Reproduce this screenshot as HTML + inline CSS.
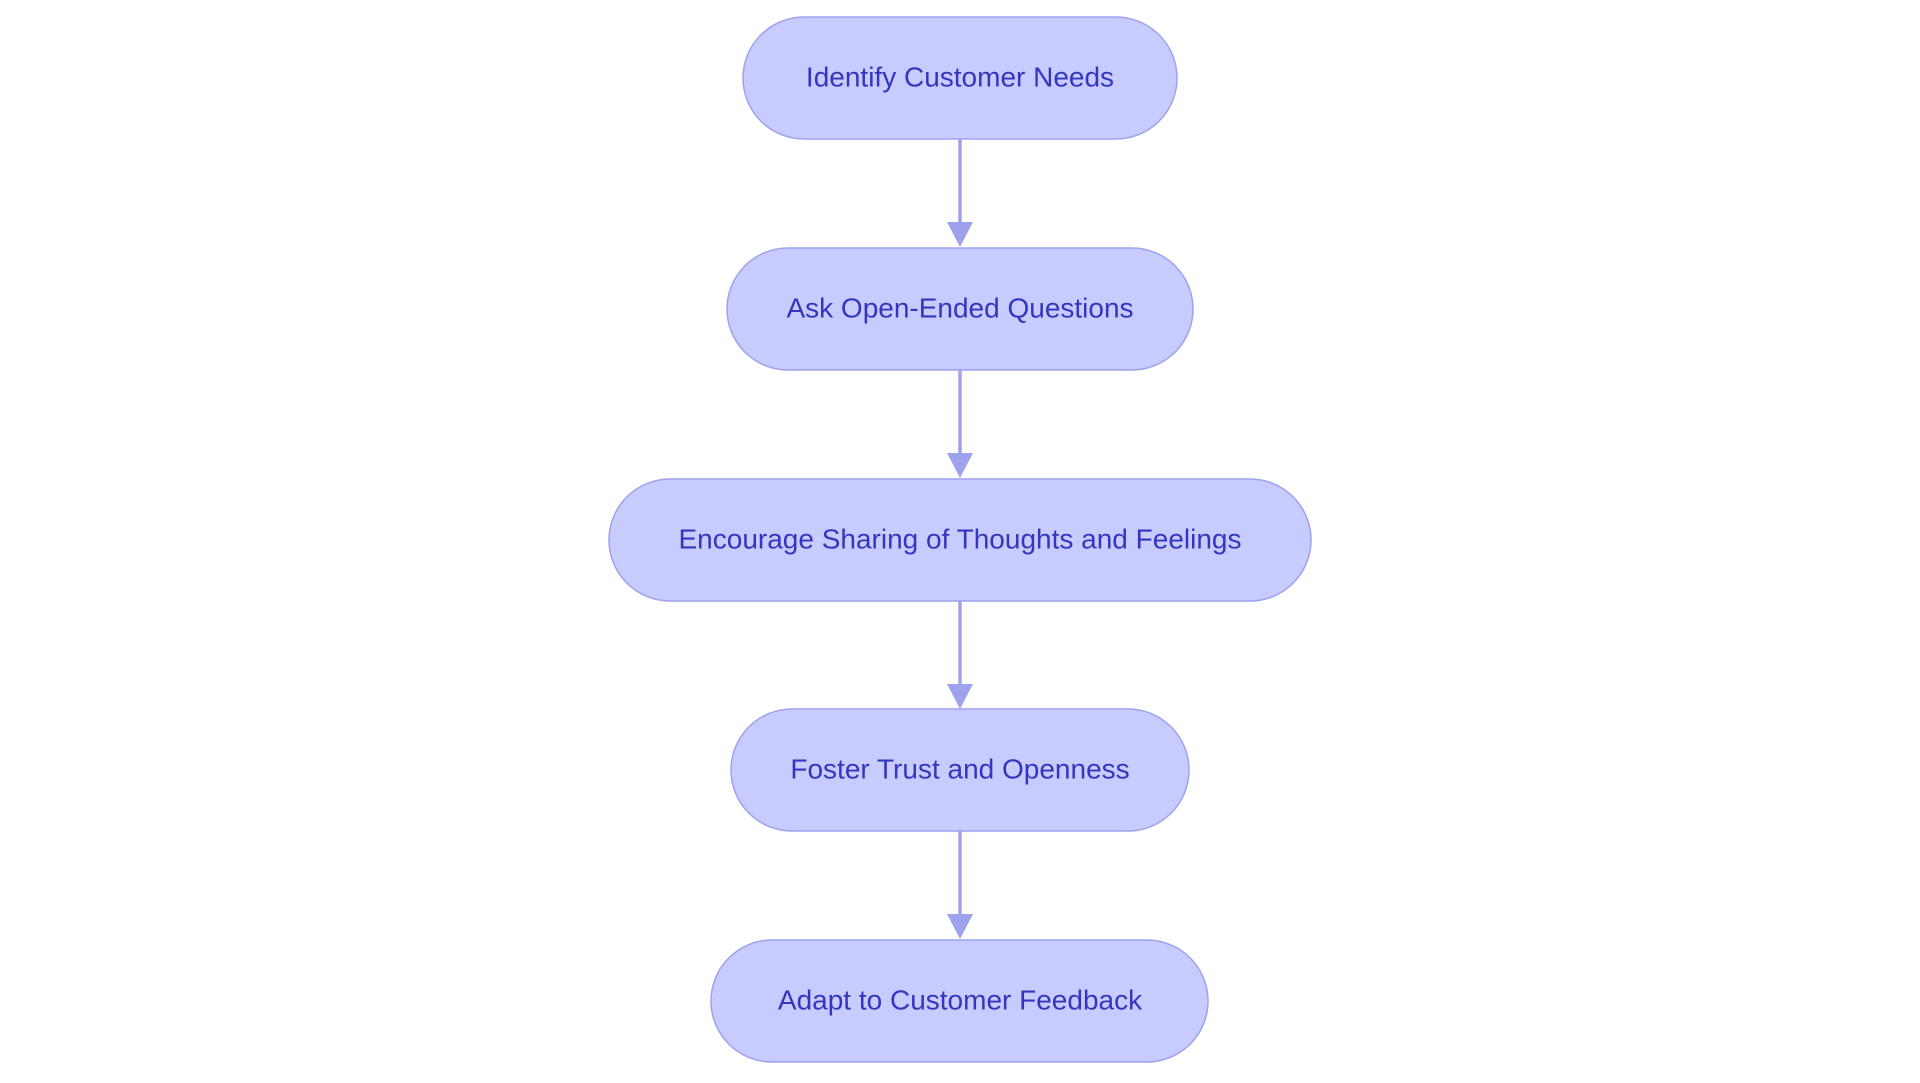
<!DOCTYPE html>
<html><head><style>body{margin:0;background:#fff}</style></head><body>
<svg width="1920" height="1083" xmlns="http://www.w3.org/2000/svg" style="display:block">
<g stroke="#9da2ee" stroke-width="3.5" fill="#9da2ee">
<line x1="960" y1="139" x2="960" y2="225"/><polygon stroke="none" points="947,222 973,222 960,247"/>
<line x1="960" y1="370" x2="960" y2="456"/><polygon stroke="none" points="947,453 973,453 960,478"/>
<line x1="960" y1="601" x2="960" y2="687"/><polygon stroke="none" points="947,684 973,684 960,709"/>
<line x1="960" y1="831" x2="960" y2="917"/><polygon stroke="none" points="947,914 973,914 960,939"/>
</g>
<g fill="#c8cbfe" stroke="#9da2ee" stroke-width="1.5">
<rect x="743" y="17" width="434" height="122" rx="61"/>
<rect x="727" y="248" width="466" height="122" rx="61"/>
<rect x="609" y="479" width="702" height="122" rx="61"/>
<rect x="731" y="709" width="458" height="122" rx="61"/>
<rect x="711" y="940" width="497" height="122" rx="61"/>
</g>
<g font-family="Liberation Sans, sans-serif" font-size="28" fill="#3535bd" text-anchor="middle" dominant-baseline="central">
<text x="960" y="77">Identify Customer Needs</text>
<text x="960" y="308">Ask Open-Ended Questions</text>
<text x="960" y="539">Encourage Sharing of Thoughts and Feelings</text>
<text x="960" y="769">Foster Trust and Openness</text>
<text x="960" y="1000">Adapt to Customer Feedback</text>
</g>
</svg>
</body></html>
